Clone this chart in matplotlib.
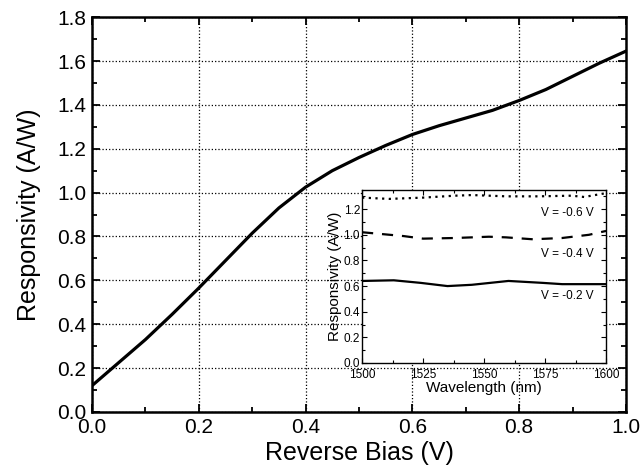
import numpy as np
import matplotlib
matplotlib.use("Agg")
import matplotlib.pyplot as plt
from matplotlib.ticker import MultipleLocator

plt.rcParams['font.family'] = ['Liberation Sans', 'DejaVu Sans']

# main curve: responsivity vs reverse bias
bias = [0.0, 0.05, 0.1, 0.15, 0.2, 0.25, 0.3, 0.35, 0.4, 0.45, 0.5,
        0.55, 0.6, 0.65, 0.7, 0.75, 0.8, 0.85, 0.9, 0.95, 1.0]
resp = [0.12, 0.225, 0.33, 0.445, 0.565, 0.69, 0.815, 0.93, 1.025, 1.10, 1.16,
        1.215, 1.265, 1.305, 1.34, 1.375, 1.42, 1.47, 1.53, 1.59, 1.645]

# inset: responsivity vs wavelength
wl_06 = [1500, 1511, 1525, 1538, 1545, 1559, 1572, 1586, 1591, 1600]
r_06 = [1.29, 1.28, 1.29, 1.305, 1.31, 1.30, 1.30, 1.305, 1.295, 1.325]
wl_04 = [1500, 1517, 1525, 1538, 1552, 1559, 1570, 1582, 1593, 1600]
r_04 = [1.02, 0.99, 0.97, 0.975, 0.985, 0.98, 0.965, 0.975, 1.0, 1.03]
wl_02 = [1500, 1513, 1524, 1535, 1545, 1560, 1574, 1582, 1600]
r_02 = [0.64, 0.645, 0.625, 0.60, 0.61, 0.64, 0.625, 0.615, 0.615]

fig = plt.figure(figsize=(6.42, 4.76), dpi=100)
ax = fig.add_axes([0.1433, 0.1345, 0.8317, 0.8295])
ax.plot(bias, resp, color='black', lw=2.3)
ax.set_xlim(0, 1.0)
ax.set_ylim(0, 1.8)
ax.xaxis.set_major_locator(MultipleLocator(0.2))
ax.xaxis.set_minor_locator(MultipleLocator(0.1))
ax.yaxis.set_major_locator(MultipleLocator(0.2))
ax.yaxis.set_minor_locator(MultipleLocator(0.1))
ax.xaxis.set_major_formatter(matplotlib.ticker.FormatStrFormatter('%.1f'))
ax.yaxis.set_major_formatter(matplotlib.ticker.FormatStrFormatter('%.1f'))
ax.grid(True, which='major', color='black', ls=':', lw=0.9)
ax.tick_params(which='both', direction='in', top=True, right=True, width=1.3)
ax.tick_params(which='major', length=6, labelsize=15, pad=4)
ax.tick_params(which='minor', length=3.5)
for s in ax.spines.values():
    s.set_linewidth(1.8)
ax.set_xlabel('Reverse Bias (V)', fontsize=18, labelpad=3)
ax.set_ylabel('Responsivity (A/W)', fontsize=18, labelpad=12)

ins = fig.add_axes([0.564, 0.2374, 0.38, 0.3636])
ins.set_facecolor('white')
ins.plot(wl_06, r_06, color='black', ls=(0, (1, 2)), lw=1.6)
ins.plot(wl_04, r_04, color='black', ls=(0, (5, 4)), lw=1.6)
ins.plot(wl_02, r_02, color='black', ls='-', lw=1.6)
ins.set_xlim(1500, 1600)
ins.set_ylim(0, 1.35)
ins.xaxis.set_major_locator(MultipleLocator(25))
ins.xaxis.set_minor_locator(MultipleLocator(12.5))
ins.yaxis.set_major_locator(MultipleLocator(0.2))
ins.yaxis.set_minor_locator(MultipleLocator(0.1))
ins.yaxis.set_major_formatter(matplotlib.ticker.FormatStrFormatter('%.1f'))
ins.tick_params(which='both', direction='in', top=True, right=True, width=0.8)
ins.tick_params(which='major', length=3.5, labelsize=8.5, pad=1.5)
ins.tick_params(axis='x', which='major', pad=4.5)
ins.tick_params(which='minor', length=2)
for s in ins.spines.values():
    s.set_linewidth(1.0)
ins.set_xlabel('Wavelength (nm)', fontsize=11, labelpad=0)
ins.set_ylabel('Responsivity (A/W)', fontsize=11, labelpad=1)
ins.text(1595, 1.17, 'V = -0.6 V', ha='right', va='center', fontsize=8.5)
ins.text(1595, 0.85, 'V = -0.4 V', ha='right', va='center', fontsize=8.5)
ins.text(1595, 0.52, 'V = -0.2 V', ha='right', va='center', fontsize=8.5)

fig.savefig('out.png', dpi=100)
